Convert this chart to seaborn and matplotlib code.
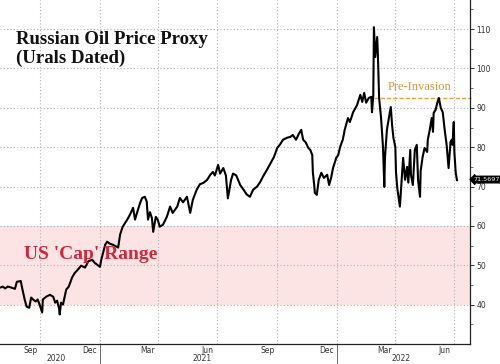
import matplotlib
matplotlib.use("Agg")
import matplotlib.pyplot as plt
import matplotlib.dates as mdates
import matplotlib.transforms as mtransforms
import seaborn as sns
import pandas as pd

# Urals Dated price (USD/bbl)
dates = [
    "2020-07-31", "2020-08-04", "2020-08-08", "2020-08-12", "2020-08-18", "2020-08-23",
    "2020-08-26", "2020-09-01", "2020-09-03", "2020-09-07", "2020-09-10", "2020-09-14",
    "2020-09-17", "2020-09-20", "2020-09-24", "2020-09-27", "2020-09-30", "2020-10-04",
    "2020-10-05", "2020-10-10", "2020-10-16", "2020-10-21", "2020-10-24", "2020-10-27",
    "2020-10-30", "2020-10-31", "2020-11-02", "2020-11-05", "2020-11-10", "2020-11-14",
    "2020-11-19", "2020-11-23", "2020-11-28", "2020-12-03", "2020-12-09", "2020-12-14",
    "2020-12-20", "2020-12-24", "2021-01-01", "2021-01-03", "2021-01-09", "2021-01-12",
    "2021-01-16", "2021-01-21", "2021-01-29", "2021-02-01", "2021-02-05", "2021-02-12",
    "2021-02-16", "2021-02-21", "2021-02-24", "2021-02-27", "2021-03-04", "2021-03-07",
    "2021-03-11", "2021-03-14", "2021-03-16", "2021-03-19", "2021-03-22", "2021-03-24",
    "2021-03-28", "2021-03-31", "2021-04-03", "2021-04-08", "2021-04-14", "2021-04-19",
    "2021-04-23", "2021-04-30", "2021-05-04", "2021-05-09", "2021-05-15", "2021-05-20",
    "2021-05-24", "2021-05-30", "2021-06-04", "2021-06-09", "2021-06-15", "2021-06-20",
    "2021-06-24", "2021-06-27", "2021-07-02", "2021-07-05", "2021-07-10", "2021-07-14",
    "2021-07-17", "2021-07-22", "2021-07-25", "2021-07-30", "2021-08-05", "2021-08-11",
    "2021-08-15", "2021-08-20", "2021-08-25", "2021-08-31", "2021-09-05", "2021-09-09",
    "2021-09-15", "2021-09-22", "2021-09-26", "2021-10-01", "2021-10-05", "2021-10-10",
    "2021-10-16", "2021-10-21", "2021-10-25", "2021-10-30", "2021-11-04", "2021-11-07",
    "2021-11-10", "2021-11-14", "2021-11-18", "2021-11-21", "2021-11-24", "2021-11-25",
    "2021-11-27", "2021-11-28", "2021-12-01", "2021-12-04", "2021-12-08", "2021-12-12",
    "2021-12-17", "2021-12-20", "2021-12-23", "2021-12-26", "2021-12-31", "2022-01-03",
    "2022-01-06", "2022-01-10", "2022-01-13", "2022-01-18", "2022-01-21", "2022-01-26",
    "2022-02-01", "2022-02-06", "2022-02-09", "2022-02-12", "2022-02-15", "2022-02-19",
    "2022-02-23", "2022-02-24", "2022-02-26", "2022-02-27", "2022-03-01", "2022-03-04",
    "2022-03-05", "2022-03-07", "2022-03-10", "2022-03-13", "2022-03-15", "2022-03-16",
    "2022-03-19", "2022-03-22", "2022-03-25", "2022-03-27", "2022-03-29", "2022-04-01",
    "2022-04-02", "2022-04-04", "2022-04-07", "2022-04-08", "2022-04-11", "2022-04-13",
    "2022-04-16", "2022-04-19", "2022-04-21", "2022-04-24", "2022-04-25", "2022-04-28",
    "2022-05-01", "2022-05-04", "2022-05-06", "2022-05-09", "2022-05-10", "2022-05-13",
    "2022-05-16", "2022-05-20", "2022-05-21", "2022-05-24", "2022-05-27", "2022-05-29",
    "2022-05-30", "2022-06-02", "2022-06-05", "2022-06-07", "2022-06-10", "2022-06-13",
    "2022-06-16", "2022-06-19", "2022-06-21", "2022-06-22", "2022-06-25", "2022-06-27",
    "2022-06-28", "2022-06-30", "2022-07-01", "2022-07-03", "2022-07-05",
]
prices = [
    44.3, 44.6, 44.1, 44.6, 44.3, 44.0,
    45.8, 46.0, 44.3, 41.3, 39.5, 39.2,
    41.8, 41.3, 40.8, 41.3, 40.0, 38.0,
    41.3, 42.0, 42.5, 42.0, 40.5, 41.0,
    39.0, 37.5, 40.5, 40.0, 43.8, 44.6,
    46.9, 48.0, 48.9, 49.9, 49.4, 51.0,
    51.4, 50.6, 49.6, 51.4, 55.2, 56.0,
    55.5, 55.2, 54.5, 57.8, 59.8, 61.6,
    62.8, 64.6, 61.6, 63.3, 65.9, 67.1,
    67.4, 66.2, 61.6, 63.5, 62.0, 58.5,
    62.3, 61.6, 59.8, 60.3, 62.3, 64.9,
    63.3, 64.9, 67.1, 66.0, 67.4, 63.3,
    66.6, 69.2, 70.6, 70.9, 71.7, 73.0,
    73.7, 72.8, 75.5, 73.3, 74.7, 72.8,
    67.0, 71.7, 73.3, 72.8, 70.4, 69.0,
    68.0, 67.4, 69.2, 70.0, 71.2, 72.5,
    74.2, 76.3, 77.5, 79.8, 80.6, 81.9,
    82.4, 82.6, 83.1, 81.9, 83.6, 84.4,
    81.9, 81.2, 79.8, 79.3, 78.0, 73.5,
    70.4, 68.4, 67.9, 71.7, 73.5, 72.2,
    73.0, 70.4, 72.2, 74.7, 77.3, 78.0,
    80.1, 81.9, 84.4, 87.4, 86.4, 88.9,
    90.7, 93.3, 91.5, 93.8, 91.3, 92.5,
    92.8, 88.9, 93.0, 110.5, 102.9, 108.0,
    104.0, 92.5, 87.4, 80.0, 69.9, 77.3,
    84.4, 87.4, 90.2, 85.6, 82.4, 80.0,
    73.7, 69.6, 66.1, 64.9, 72.2, 77.3,
    71.7, 75.0, 71.0, 79.3, 73.0, 70.4,
    79.3, 80.6, 71.7, 67.4, 74.0, 77.5,
    79.8, 78.8, 81.9, 84.4, 87.4, 83.9,
    88.7, 89.5, 91.5, 92.5, 90.0, 88.9,
    84.4, 80.6, 76.8, 74.7, 81.3, 81.9,
    80.6, 86.4, 78.6, 73.5, 71.5697,
]

cap_low, cap_high = 40, 60
pre_invasion = 92.5
invasion_start = "2022-02-27"
last_label = "71.5697"
y_ticks = [40, 50, 60, 70, 80, 90, 100, 110]
year_labels = [("2020", "2020-10-25"), ("2021", "2021-06-08"), ("2022", "2022-04-10")]

df = pd.DataFrame({"date": pd.to_datetime(dates), "price": prices})

sns.set_style("white")
plt.rcParams["font.family"] = ["DejaVu Sans"]

fig = plt.figure(figsize=(5, 3.64), dpi=100)
ax = fig.add_axes([0.0, 0.055, 0.94, 0.945])

# cap band
ax.axhspan(cap_low, cap_high, color="#fde4e4", zorder=0, lw=0)

sns.lineplot(data=df, x="date", y="price", ax=ax, color="black", linewidth=1.5, zorder=3)

ax.set_xlim(pd.Timestamp("2020-07-31"), pd.Timestamp("2022-07-25"))
ax.set_ylim(30, 117.4)
ax.set_xlabel("")
ax.set_ylabel("")

# pre-invasion level
ax.plot([pd.Timestamp(invasion_start), pd.Timestamp("2022-07-27")], [pre_invasion, pre_invasion],
        color="#e8a23c", linestyle=(0, (3, 1.5)), linewidth=1.0, zorder=2, clip_on=False)
ax.text(pd.Timestamp("2022-05-09"), 95.4, "Pre-Invasion", color="#df9634", fontsize=9,
        family="Liberation Serif", ha="center", va="center")

# grid
grid_kw = dict(color="#b0b0b0", linestyle=(0, (1, 2)), linewidth=0.8, zorder=1)
for v in y_ticks:
    ax.axhline(v, **grid_kw)
for d in ["2020-10-01", "2021-01-01", "2021-04-01", "2021-07-01",
          "2021-10-01", "2022-01-01", "2022-04-01", "2022-07-01"]:
    ax.axvline(pd.Timestamp(d), **grid_kw)

# spines
for s in ["top", "left"]:
    ax.spines[s].set_visible(False)
for s in ["right", "bottom"]:
    ax.spines[s].set_color("#222222")
    ax.spines[s].set_linewidth(0.9)

# y axis on the right
ax.yaxis.tick_right()
ax.set_yticks(y_ticks)
ax.set_yticks(range(35, 116, 5), minor=True)
ax.tick_params(axis="y", which="major", direction="out", length=3, width=0.7,
               labelsize=5.5, labelcolor="#333333", pad=1.5, colors="#333333")
ax.tick_params(axis="y", which="minor", direction="out", length=2, width=0.6, colors="#555555")

# x axis: ticks at month starts, labels mid-month
ax.xaxis.set_major_locator(mdates.MonthLocator())
ax.xaxis.set_major_formatter(plt.NullFormatter())
ax.xaxis.set_minor_locator(mdates.MonthLocator(bymonth=[3, 6, 9, 12], bymonthday=16))
ax.xaxis.set_minor_formatter(mdates.DateFormatter("%b"))
ax.tick_params(axis="x", which="major", direction="out", length=2, width=0.6, colors="#555555")
ax.tick_params(axis="x", which="minor", length=0, labelsize=5.5, labelcolor="#333333", pad=1.5)

trans = mtransforms.blended_transform_factory(ax.transData, ax.transAxes)
for label, d in year_labels:
    ax.text(pd.Timestamp(d), -0.03, label, transform=trans, ha="center", va="top",
            fontsize=5.5, color="#333333")
for d in ["2021-01-01", "2022-01-01"]:
    ax.plot([pd.Timestamp(d)] * 2, [0, -0.06], transform=trans, color="#555555",
            linewidth=0.6, clip_on=False)

# title and band label
ax.text(0.034, 0.91, "Russian Oil Price Proxy\n(Urals Dated)", transform=ax.transAxes,
        fontsize=13.5, fontweight="bold", family="Liberation Serif", color="#111111",
        ha="left", va="top", linespacing=1.1)
ax.text(pd.Timestamp("2020-09-06"), 52.7, "US 'Cap' Range", color="#d3263a", fontsize=14,
        fontweight="bold", family="Liberation Serif", ha="left", va="center")

# last value tag
ax.annotate(last_label, xy=(1.0, prices[-1]), xycoords=("axes fraction", "data"),
            xytext=(2.5, 0.6), textcoords="offset points", ha="left", va="center",
            fontsize=4.6, color="white",
            bbox=dict(boxstyle="larrow,pad=0.12", fc="black", ec="black"),
            annotation_clip=False, zorder=5)

fig.savefig("out.png", dpi=100)
